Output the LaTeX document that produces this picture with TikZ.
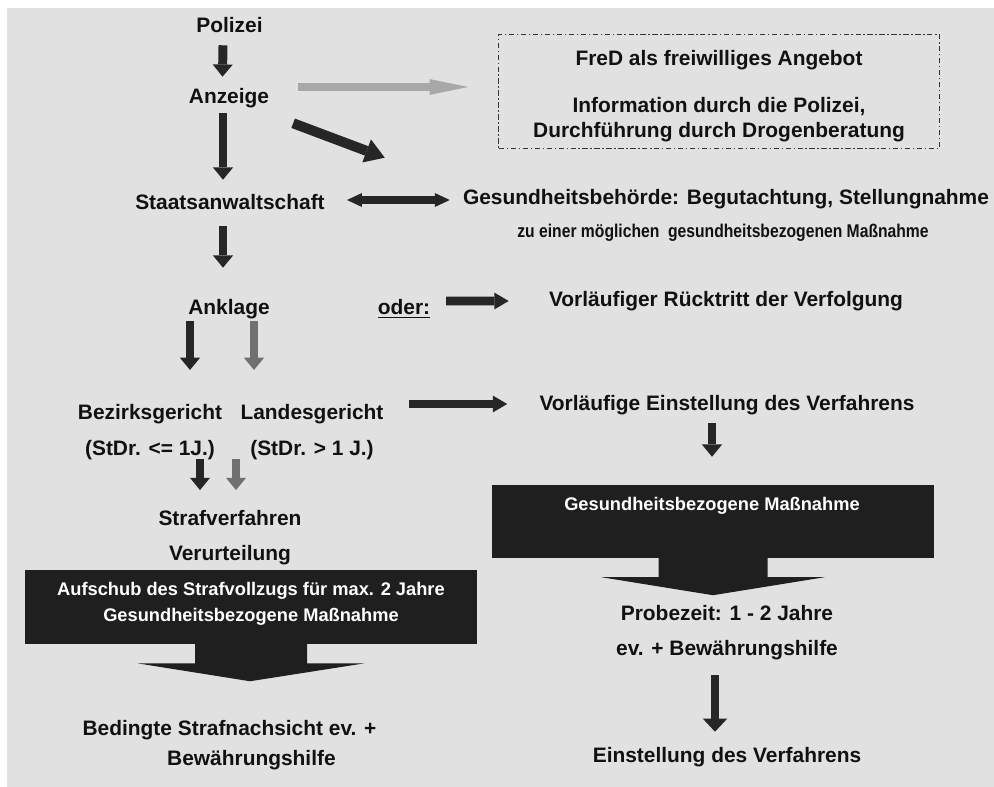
\documentclass[tikz,border=0pt]{standalone}
\usepackage{fontspec}
\setmainfont{Liberation Sans}
\newfontfamily\narrowfont[FakeStretch=0.85]{Liberation Sans}
\usetikzlibrary{arrows.meta,calc,positioning}

\definecolor{bggray}{HTML}{E1E1E1}
\definecolor{ink}{HTML}{111111}
\definecolor{arrdark}{HTML}{262626}
\definecolor{arrlight}{HTML}{A8A8A8}
\definecolor{arrmid}{HTML}{707070}
\definecolor{boxdark}{HTML}{1F1F1F}

\begin{document}
\begin{tikzpicture}[
		x=0.02cm, y=-0.02cm,
		lbl/.style={font=\bfseries\fontsize{11.9pt}{14.2pt}\selectfont, text=ink, inner sep=0pt, text height=8.9pt, text depth=2.4pt},
		lbltwo/.style={font=\bfseries\fontsize{11.9pt}{#1}\selectfont, text=ink, inner sep=0pt, align=center},
		smalllbl/.style={font=\narrowfont\bfseries\fontsize{10.5pt}{12pt}\selectfont, text=ink, inner sep=0pt},
		boxtext/.style={font=\bfseries\fontsize{10.4pt}{14.7pt}\selectfont, text=white, inner sep=0pt, align=center},
		fredbox/.style={draw=black!80, line width=0.6pt, dash pattern=on 3pt off 1.5pt on 0.8pt off 1.5pt, minimum width=250.6pt, minimum height=65.2pt, inner sep=0pt},
		darkbox/.style={fill=boxdark, inner sep=0pt},
		arr/.style={draw=arrdark, line width=5.1pt, -{Triangle[width=11.5pt,length=7pt,line width=0pt]}},
		sidearr/.style={draw=arrdark, line width=5pt, -{Triangle[width=9.6pt,length=8.2pt,line width=0pt]}},
		dblarr/.style={draw=arrdark, line width=4pt, {Triangle[width=8pt,length=8.5pt,line width=0pt]}-{Triangle[width=8pt,length=8.5pt,line width=0pt]}},
		diagarr/.style={draw=arrdark, line width=5.7pt, -{Triangle[width=14pt,length=11pt,line width=0pt]}},
		lightarr/.style={draw=arrlight, line width=4pt, -{Triangle[width=9pt,length=22pt,line width=0pt]}},
	]

	\useasboundingbox (0,0) rectangle (994,787);
	\fill[bggray] (7,8) rectangle (994,787);

	% Main column
	\node[lbl] (polizei) at (229.5,27) {Polizei};
	\node[lbl] (anzeige) at (229,98) {Anzeige};
	\node[lbl] (staats)  at (230,204) {Staatsanwaltschaft};
	\node[lbl] (anklage) at (229,309) {Anklage};
	\node[lbl] (oder)    at (404,309) {\underline{oder:}};
	\node[lbltwo=20.4pt] (bezirk) at (150,432) {Bezirksgericht\\(StDr. <= 1J.)};
	\node[lbltwo=20.4pt] (landes) at (312,432) {Landesgericht\\(StDr. > 1 J.)};
	\node[lbltwo=19.8pt] (straf)  at (230,537.6) {Strafverfahren\\Verurteilung};

	% Left box
	\node[darkbox, minimum width=257.4pt, minimum height=42pt] (lbox) at (251,607) {};
	\node[boxtext] (ltext) at (251,604) {Aufschub des Strafvollzugs für max. 2 Jahre\\Gesundheitsbezogene Maßnahme};
	\fill[boxdark] ($(lbox.south)+(-56,-1)$) -- ($(lbox.south)+(-56,19)$) -- ($(lbox.south)+(-114,19)$)
		-- ($(lbox.south)+(-1,37)$) -- ($(lbox.south)+(114,19)$) -- ($(lbox.south)+(56,19)$)
		-- ($(lbox.south)+(56,-1)$) -- cycle;
	\node[lbltwo=17pt] (bedingt) at (229.5,745) {Bedingte Strafnachsicht ev. +\\\hspace*{25pt}Bewährungshilfe};

	% Right column
	\node[fredbox] (fred) at (719,91.5) {};
	\node[lbltwo=14.2pt] (fredtext) at (719,96) {FreD als freiwilliges Angebot\\[12.4pt]Information durch die Polizei,\\Durchführung durch Drogenberatung};
	\node[lbl] (gesund) at (726,199) {Gesundheitsbehörde: Begutachtung, Stellungnahme};
	\node[smalllbl] (zusatz) at (723,233) {zu einer möglichen\ \ gesundheitsbezogenen Maßnahme};
	\node[lbl] (ruecktritt) at (726,300.5) {Vorläufiger Rücktritt der Verfolgung};
	\node[lbl] (einst) at (727,405) {Vorläufige Einstellung des Verfahrens};

	% Right box
	\node[darkbox, minimum width=251.7pt, minimum height=41.4pt] (rbox) at (713,521.5) {};
	\node[boxtext] (rtext) at (712,505.5) {Gesundheitsbezogene Maßnahme};
	\fill[boxdark] ($(rbox.south)+(-54.5,-1)$) -- ($(rbox.south)+(-54.5,19)$) -- ($(rbox.south)+(-111.5,19)$)
		-- ($(rbox.south)+(0,37)$) -- ($(rbox.south)+(111.5,19)$) -- ($(rbox.south)+(54.5,19)$)
		-- ($(rbox.south)+(54.5,-1)$) -- cycle;
	\node[lbltwo=19.8pt] (probe) at (727,632.6) {Probezeit: 1 - 2 Jahre\\ev. + Bewährungshilfe};
	\node[lbl] (ende) at (727,757) {Einstellung des Verfahrens};

	% Main chain
	\draw[arr] ($(polizei.south)+(-6.5,8)$) -- ($(anzeige.north)+(-6.5,-11)$);
	\draw[arr] ($(anzeige.south)+(-6,5)$)   -- ($(staats.north)+(-7,-14)$);
	\draw[arr] ($(staats.south)+(-7,12)$)   -- ($(anklage.north)+(-6,-31)$);

	% Side branches
	\draw[lightarr] ($(anzeige.east)+(28.7,-11)$) -- ($(fred.west)+(-30,-4.5)$);
	\draw[diagarr] ($(anzeige.south east)+(23.7,15)$) -- ($(gesund.north west)+(-78,-31)$);
	\draw[dblarr] ($(staats.east)+(22,-4)$) -- ($(gesund.west)+(-13,1)$);
	\draw[sidearr] ($(oder.east)+(15.7,-8)$) -- ($(ruecktritt.west)+(-40,0.5)$);
	\draw[sidearr] ($(landes.east)+(25,-28)$) -- ($(einst.west)+(-32,-1)$);

	% Courts
	\draw[arr] ($(anklage.south)+(-39,2)$) -- ($(bezirk.north)+(40,-34)$);
	\draw[arr, draw=arrmid] ($(anklage.south)+(25,2)$) -- ($(landes.north)+(-58,-34)$);
	\draw[arr] ($(bezirk.south)+(50,-1)$) -- ($(straf.north)+(-30,-20)$);
	\draw[arr, draw=arrmid] ($(landes.south)+(-76,-1)$) -- ($(straf.north)+(6,-20)$);

	% Right chain
	\draw[arr] ($(einst.south)+(-15,8)$) -- ($(rbox.north)+(-1,-28)$);
	\draw[arr, -{Triangle[width=14pt,length=7.5pt,line width=0pt]}] ($(probe.south)+(-12,15)$) -- ($(ende.north)+(-12,-15)$);

\end{tikzpicture}
\end{document}
